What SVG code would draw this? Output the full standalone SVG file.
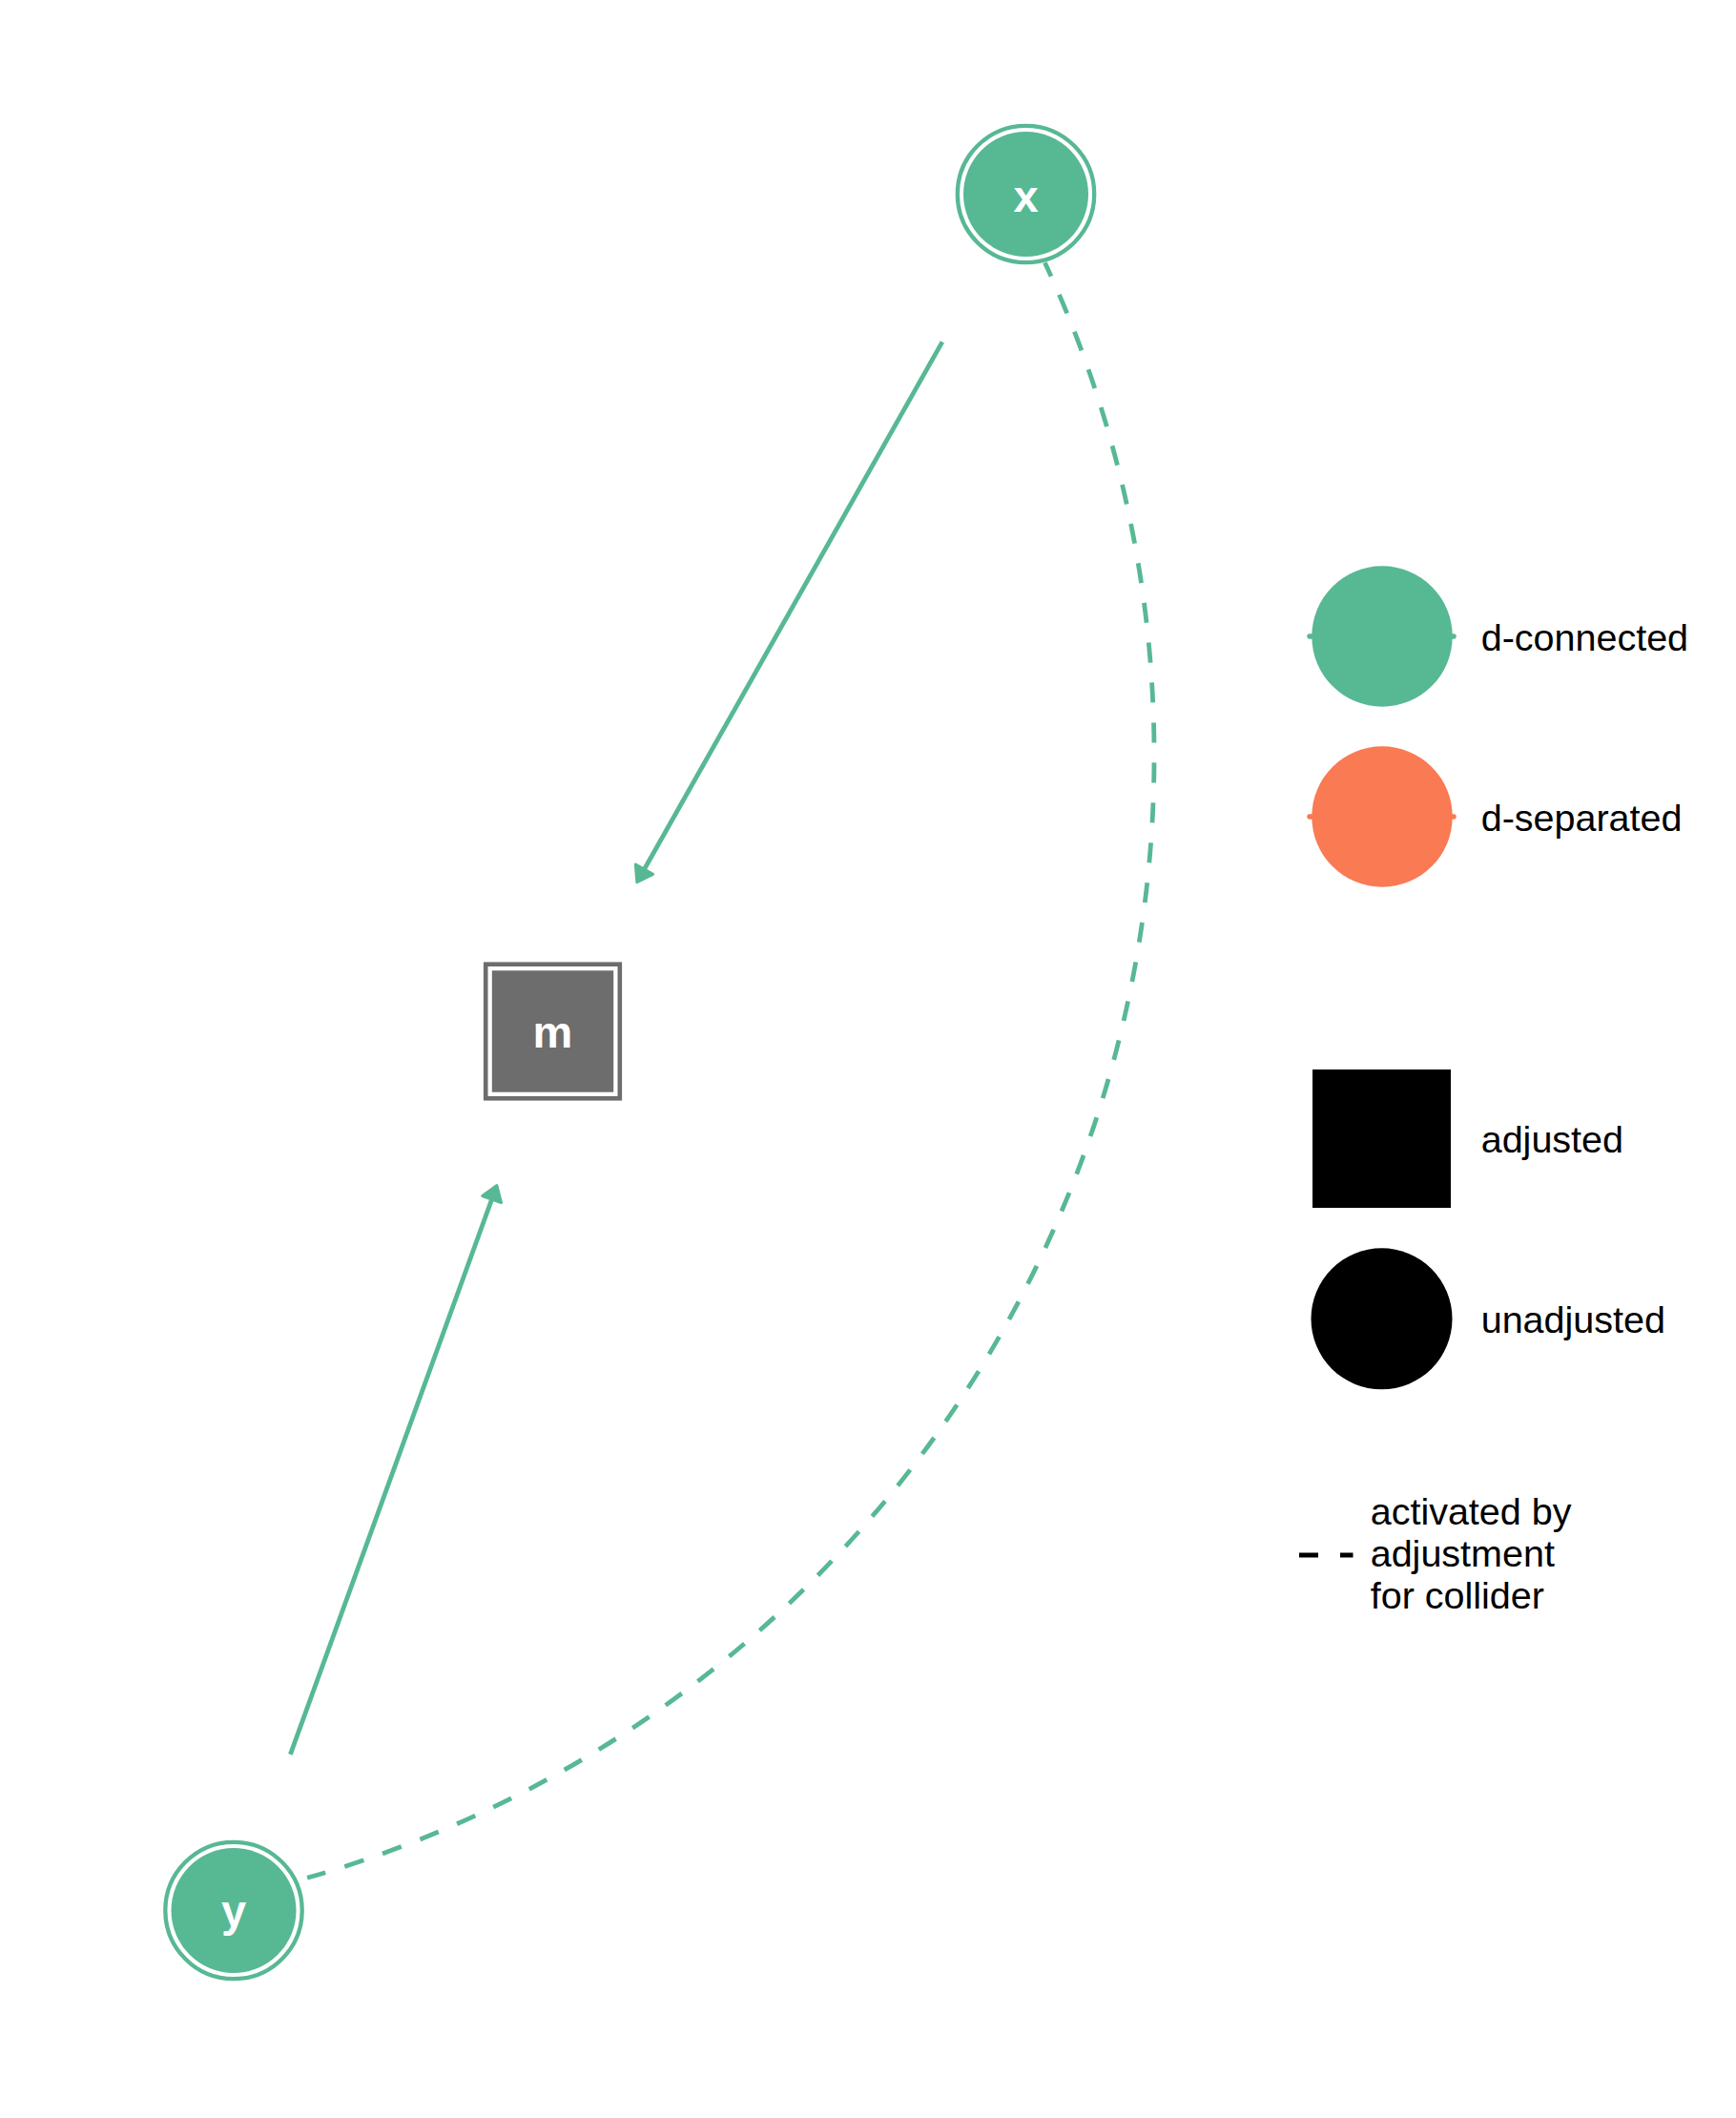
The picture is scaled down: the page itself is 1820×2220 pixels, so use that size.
<svg xmlns="http://www.w3.org/2000/svg" width="1820" height="2220" viewBox="0 0 1820 2220">
<style>
.edge{fill:none;stroke:#57B894;stroke-width:4.8}
.dash{stroke-dasharray:21 21;stroke-dashoffset:5}
.ring{fill:#FFFFFF;stroke:#57B894;stroke-width:4.3}
.core{fill:#57B894}
.lbl{font-family:"Liberation Sans",Arial,sans-serif;font-weight:bold;font-size:47px;fill:#FFFFFF;text-anchor:middle}
.leg{font-family:"Liberation Sans",Arial,sans-serif;font-size:39.5px;fill:#000000}
</style>
<defs>
<marker id="arr" markerUnits="userSpaceOnUse" markerWidth="40" markerHeight="40" viewBox="-20 -20 40 40" refX="0" refY="0" orient="auto">
<path d="M -7 -10.5 L 8.5 0 L -7 10.5 Z" fill="#57B894" stroke="#57B894" stroke-width="3" stroke-linejoin="round"/>
</marker>
</defs>
<rect x="0" y="0" width="1820" height="2220" fill="#FFFFFF"/>
<g id="connectors">
<path class="edge dash" d="M 1095.4 275.2 A 1223 1223 0 0 1 322.1 1968.3"/>
<line class="edge" x1="987.9" y1="358.4" x2="672" y2="917.3" marker-end="url(#arr)"/>
<line class="edge" x1="304.4" y1="1838.9" x2="518" y2="1250.5" marker-end="url(#arr)"/>
</g>
<g id="node-x">
<circle class="ring" cx="1075.5" cy="203.5" r="71.7"/>
<circle class="core" cx="1075.5" cy="203.5" r="65.5"/>
<text class="lbl" x="1075.5" y="221.7">x</text>
</g>
<g id="node-m">
<rect x="509.2" y="1010.7" width="140.6" height="140.6" fill="#FFFFFF" stroke="#6D6D6D" stroke-width="4.6"/>
<rect x="515.8" y="1017.3" width="127.4" height="127.4" fill="#6D6D6D"/>
<text class="lbl" x="579.5" y="1098.3">m</text>
</g>
<g id="node-y">
<circle class="ring" cx="245" cy="2002.5" r="71.7"/>
<circle class="core" cx="245" cy="2002.5" r="65.5"/>
<text class="lbl" x="245" y="2019">y</text>
</g>
<g id="legend">
<line x1="1373" y1="667" x2="1524" y2="667" stroke="#57B894" stroke-width="5.5" stroke-linecap="round"/>
<circle cx="1449" cy="667" r="73.7" fill="#57B894"/>
<text class="leg" x="1552.7" y="681.7">d-connected</text>
<line x1="1373" y1="856" x2="1524" y2="856" stroke="#F97A53" stroke-width="5.5" stroke-linecap="round"/>
<circle cx="1449" cy="856" r="73.7" fill="#F97A53"/>
<text class="leg" x="1552.7" y="870.7">d-separated</text>
<rect x="1376" y="1121" width="145" height="145" fill="#000000"/>
<text class="leg" x="1552.7" y="1208.3">adjusted</text>
<circle cx="1448.5" cy="1382.3" r="74" fill="#000000"/>
<text class="leg" x="1552.7" y="1396.7">unadjusted</text>
<line x1="1362" y1="1630" x2="1418.5" y2="1630" stroke="#000000" stroke-width="5" stroke-dasharray="20 23"/>
<text class="leg" x="1436.7" y="1598.3">activated by</text>
<text class="leg" x="1436.7" y="1641.7">adjustment</text>
<text class="leg" x="1436.7" y="1686">for collider</text>
</g>
</svg>
